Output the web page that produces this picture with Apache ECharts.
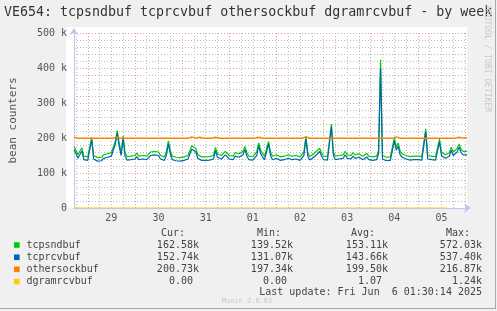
<!DOCTYPE html>
<html>
<head>
<meta charset="utf-8">
<script src="https://cdn.jsdelivr.net/npm/echarts@6/dist/echarts.min.js"></script>
<style>
html,body{margin:0;padding:0;background:#F0F0F0;}
#c{width:497px;height:311px;}
</style>
</head>
<body>
<div id="c"></div>
<script>
// Hours relative to May 29 00:00, first sample and sample count (hourly samples)
var startHour = -7;
var sampleCount = 201;
// Day labels shown at noon of each day
var dayLabels = ['29','30','31','01','02','03','04','05'];
var yTickLabels = ['0','100 k','200 k','300 k','400 k','500 k'];

var seriesNames = ['tcpsndbuf','tcprcvbuf','othersockbuf','dgramrcvbuf'];
var seriesColors = ['#00CC00','#0066B3','#FF8000','#FFCC00'];

// values in k
var tcpsndbuf = [
176,165,152,150,172,148,145,146,147,202,
150,145,144,146,145,152,149,155,150,158,
162,190,221,185,160,206,158,147,145,148,
146,150,157,148,153,150,155,148,152,160,
156,162,158,160,150,147,146,160,192,165,
148,147,145,146,144,148,146,145,150,165,
178,181,170,152,148,146,145,146,144,147,
145,150,173,155,152,150,155,162,160,150,
155,148,158,160,155,158,162,176,158,148,
146,147,150,160,186,165,155,148,152,190,
160,148,146,152,147,146,150,148,146,152,
147,148,146,150,147,146,150,160,205,158,
147,150,155,160,165,171,158,148,146,147,
150,240,160,148,146,150,147,152,162,152,
155,150,158,152,148,155,150,148,152,156,
148,150,146,148,148,165,424,150,146,145,
147,146,150,200,175,186,162,155,158,150,
148,147,150,148,152,148,150,147,148,226,
150,146,148,145,147,150,197,160,155,152,
150,158,174,160,165,170,183,168,162,160,
162
];
var tcprcvbuf = [
166,156,142,140,163,138,135,136,137,195,
140,135,134,136,135,142,139,145,140,148,
152,182,214,176,150,198,148,137,135,138,
136,140,147,138,143,140,145,138,142,150,
146,152,148,150,140,137,136,150,184,155,
138,137,135,136,134,138,136,135,140,155,
168,172,160,142,138,136,135,136,134,137,
135,140,164,145,142,140,145,152,150,140,
145,138,148,150,145,148,152,167,148,138,
136,137,140,150,178,155,145,138,142,183,
150,138,136,142,137,136,140,138,136,142,
137,138,136,140,137,136,140,150,198,148,
137,140,145,150,155,162,148,138,136,137,
140,232,150,138,136,140,137,142,152,142,
145,140,148,142,138,145,140,138,142,146,
138,140,136,138,138,155,400,140,136,135,
137,136,140,192,165,177,152,145,148,140,
138,137,140,138,142,138,140,137,138,218,
140,136,138,135,137,140,189,150,145,142,
140,148,165,150,155,160,174,158,152,150,
152
];
var othersockbuf = [
202,199.5,199.5,199.5,199.5,199.5,199.5,199.5,199.5,203,
199.5,199.5,199.5,199.5,199.5,199.5,199.5,199.5,199.5,199.5,
199.5,199.5,203,199.5,199.5,199.5,199.5,199.5,199.5,199.5,
199.5,199.5,199.5,199.5,199.5,199.5,199.5,199.5,199.5,199.5,
199.5,199.5,199.5,199.5,199.5,199.5,199.5,199.5,199.5,199.5,
199.5,199.5,199.5,199.5,199.5,199.5,199.5,199.5,199.5,199.5,
203,199.5,199.5,202,202,199.5,199.5,199.5,199.5,199.5,
199.5,199.5,202,199.5,199.5,199.5,199.5,199.5,199.5,199.5,
199.5,199.5,199.5,199.5,199.5,199.5,199.5,199.5,199.5,199.5,
199.5,199.5,199.5,199.5,202,199.5,199.5,199.5,199.5,202,
199.5,199.5,199.5,199.5,199.5,199.5,199.5,199.5,199.5,199.5,
199.5,199.5,199.5,199.5,199.5,199.5,199.5,199.5,203,199.5,
199.5,199.5,199.5,199.5,199.5,203,199.5,199.5,199.5,199.5,
199.5,199.5,199.5,199.5,199.5,199.5,199.5,199.5,199.5,199.5,
199.5,199.5,199.5,199.5,199.5,199.5,199.5,199.5,199.5,199.5,
199.5,199.5,199.5,199.5,199.5,199.5,199.5,199.5,199.5,199.5,
199.5,199.5,199.5,204,203,204,199.5,199.5,199.5,199.5,
199.5,199.5,199.5,199.5,199.5,199.5,199.5,199.5,199.5,199.5,
199.5,199.5,199.5,199.5,199.5,199.5,199.5,199.5,199.5,199.5,
199.5,199.5,199.5,199.5,199.5,202,202,202,199.5,199.5,
200.7
];
var dgramrcvbuf = [
0,0,0,0,0,0,0,0,0,0, 0,0,0,0,0,0,0,0,0,0, 0,0,0,0,0,0,0,0,0,0,
0,0,0,0,0,0,0,0,0,0, 0,0,0,0,0,0,0,0,0,0, 0,0,0,0,0,0,0,0,0,0,
0,0,0,0,0,0,0,0,0,0, 0,0,0,0,0,0,0,0,0,0, 0,0,0,0,0,0,0,0,0,0,
0,0,0,0,0,0,0,0,0,0, 0,0,0,0,0,0,0,0,0,0, 0,0,0,0,0,0,0,0,0,0,
0,0,0,0,0,0,0,0,0,0, 0,0,0,0,0,0,0,0,0,0, 0,0,0,0,0,0,0,0,0,0,
0,0,0,0,0,0,0,0,0,0, 0,0,0,0,0,0,0,0,0,0, 0,0,0,0,0,0,0,0,0,0,
0,0,0,0,0,0,0,0,0,0, 0
];

var curVals = ['162.58k','152.74k','200.73k','0.00'];
var minVals = ['139.52k','131.07k','197.34k','0.00'];
var avgVals = ['153.11k','143.66k','199.50k','1.07'];
var maxVals = ['572.03k','537.40k','216.87k','1.24k'];
var titleText = 'VE654: tcpsndbuf tcprcvbuf othersockbuf dgramrcvbuf - by week';
var lastUpdate = 'Last update: Fri Jun  6 01:30:14 2025';

var hours = [];
for (var i = 0; i < sampleCount; i++) hours.push(String(startHour + i));

function toUnits(arr){ return arr.map(function(v){ return v * 1000; }); }

var MONO = '"DejaVu Sans Mono", monospace';
var gLeft = 66, gRight = 467, gTop = 33, gBottom = 208;

var graphics = [];
graphics.push({type:'rect', z:-10, shape:{x:gLeft, y:27, width:gRight-gLeft, height:gBottom-27}, style:{fill:'#FFFFFF'}});
graphics.push({type:'line', shape:{x1:495.5,y1:0,x2:495.5,y2:309}, style:{stroke:'#A8A8A8', lineWidth:1}});
graphics.push({type:'line', shape:{x1:0,y1:308.5,x2:496,y2:308.5}, style:{stroke:'#A8A8A8', lineWidth:1}});
graphics.push({type:'text', style:{text:titleText, x:4, y:13, font:'13.3px '+MONO, fill:'#333333', textVerticalAlign:'middle'}});
graphics.push({type:'text', x:487, y:59, rotation:-Math.PI/2, style:{text:'RRDTOOL / TOBI OETIKER', x:0, y:0, font:'8px '+MONO, fill:'#C8C8C8', textAlign:'center', textVerticalAlign:'middle'}});
var colRight = [199, 293, 388, 482];
var headers = ['Cur:','Min:','Avg:','Max:'];
var headerRight = [185, 281, 375, 470];
var rowY = [245, 257.3, 269.3, 281.5];
for (var h = 0; h < 4; h++) {
  graphics.push({type:'text', style:{text:headers[h], x:headerRight[h], y:233.3, font:'10px '+MONO, fill:'#444444', textAlign:'right', textVerticalAlign:'middle'}});
}
var cols = [curVals, minVals, avgVals, maxVals];
for (var r = 0; r < 4; r++) {
  graphics.push({type:'rect', shape:{x:14, y:rowY[r]-2.8, width:5.6, height:5.6}, style:{fill:seriesColors[r]}});
  graphics.push({type:'text', style:{text:seriesNames[r], x:26.5, y:rowY[r], font:'10px '+MONO, fill:'#444444', textVerticalAlign:'middle'}});
  for (var c = 0; c < 4; c++) {
    var v = cols[c][r];
    var off = /k$/.test(v) ? 0 : 6;
    graphics.push({type:'text', style:{text:v, x:colRight[c]-off, y:rowY[r], font:'10px '+MONO, fill:'#444444', textAlign:'right', textVerticalAlign:'middle'}});
  }
}
graphics.push({type:'text', style:{text:lastUpdate, x:482, y:292.8, font:'10px '+MONO, fill:'#444444', textAlign:'right', textVerticalAlign:'middle'}});
graphics.push({type:'text', style:{text:'Munin 2.0.63', x:247, y:300.7, font:'7px '+MONO, fill:'#C8C8C8', textAlign:'center', textVerticalAlign:'middle'}});

var chart = echarts.init(document.getElementById('c'), null, {renderer:'canvas'});
var axisCol = '#C4C4EE';
var gridGrey = '#BBBBBB';
var gridRed = '#E4A0A0';
var option = {
  backgroundColor: '#F0F0F0',
  animation: false,
  grid: {left: gLeft, right: 497 - gRight, top: gTop, bottom: 311 - gBottom, containLabel: false},
  xAxis: [{
    type: 'category', data: hours, boundaryGap: false,
    axisLine: {show: true, lineStyle: {color: axisCol, width: 1}, symbol: ['none','arrow'], symbolSize: [7, 7], symbolOffset: [0, 4]},
    axisTick: {show: false},
    axisLabel: {
      interval: function(idx, val){ return ((Number(val) % 24) + 24) % 24 === 12; },
      formatter: function(val){ var k = (Number(val) - 12) / 24; return dayLabels[k] || ''; },
      color: '#555555', fontFamily: MONO, fontSize: 10, margin: 5
    },
    splitLine: {show: true, interval: function(idx, val){ return ((Number(val) % 24) + 24) % 24 === 0; },
      lineStyle: {color: gridRed, type: [1, 2], width: 1}},
    z: 2
  }, {
    type: 'category', data: hours, boundaryGap: false, position: 'bottom',
    axisLine: {show: false}, axisTick: {show: false}, axisLabel: {show: false},
    splitLine: {show: true, interval: function(idx, val){ var m = ((Number(val) % 24) + 24) % 24; return m % 6 === 0 && m !== 0; },
      lineStyle: {color: gridGrey, type: [1, 2], width: 1}},
    z: 0
  }],
  yAxis: [{
    type: 'value', min: 0, max: 500000, interval: 100000,
    name: 'bean counters', nameLocation: 'middle', nameGap: 55, nameRotate: 90,
    nameTextStyle: {color: '#555555', fontFamily: MONO, fontSize: 11},
    axisLine: {show: true, lineStyle: {color: axisCol, width: 1}, symbol: ['none','arrow'], symbolSize: [7, 7], symbolOffset: [0, 5]},
    axisTick: {show: false},
    axisLabel: {formatter: function(v){ return yTickLabels[Math.round(v / 100000)]; }, color: '#555555', fontFamily: MONO, fontSize: 10, margin: 7},
    splitLine: {show: true, lineStyle: {color: gridRed, type: [1, 2], width: 1}},
    z: 2
  }, {
    type: 'value', min: 0, max: 500000, interval: 20000, position: 'left',
    axisLine: {show: false}, axisTick: {show: false}, axisLabel: {show: false},
    splitLine: {show: true, lineStyle: {color: gridGrey, type: [1, 2], width: 1}},
    z: 0
  }],
  series: [
    {name: seriesNames[0], type: 'line', data: toUnits(tcpsndbuf), showSymbol: false, symbol: 'none', lineStyle: {color: seriesColors[0], width: 1.2}, z: 3},
    {name: seriesNames[1], type: 'line', data: toUnits(tcprcvbuf), showSymbol: false, symbol: 'none', lineStyle: {color: seriesColors[1], width: 1.2}, z: 4},
    {name: seriesNames[2], type: 'line', data: toUnits(othersockbuf), showSymbol: false, symbol: 'none', lineStyle: {color: seriesColors[2], width: 1.4}, z: 5},
    {name: seriesNames[3], type: 'line', data: toUnits(dgramrcvbuf), showSymbol: false, symbol: 'none', lineStyle: {color: seriesColors[3], width: 1.2}, z: 6}
  ],
  graphic: graphics
};
chart.setOption(option);
</script>
</body>
</html>
